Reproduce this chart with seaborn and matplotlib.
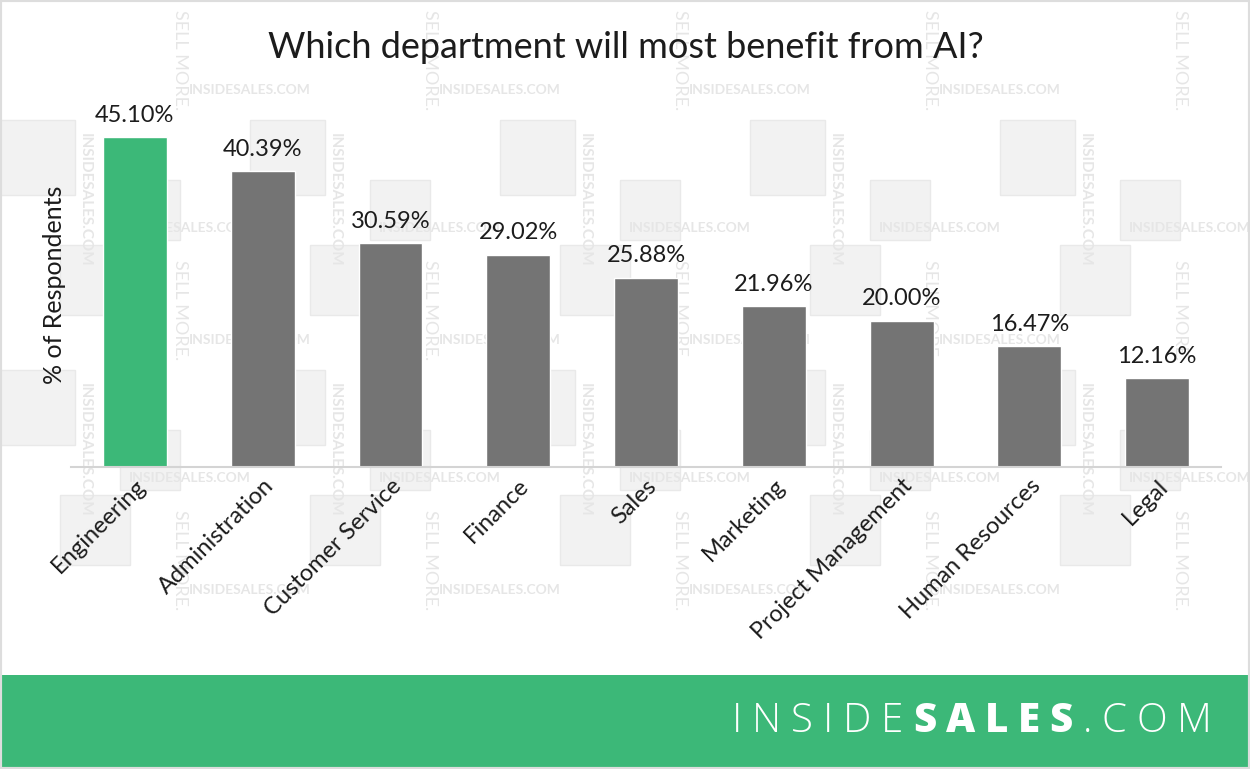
"""
Which department will most benefit from AI? -- InsideSales survey bar chart
"""

import numpy as np
import pandas as pd
import matplotlib
matplotlib.use("Agg")
import matplotlib.pyplot as plt
from matplotlib.patches import Rectangle
from matplotlib.offsetbox import TextArea, HPacker, AnchoredOffsetbox
import seaborn as sns

# ------------------------------------------------------------------
# Data
# ------------------------------------------------------------------
departments = ["Engineering", "Administration", "Customer Service", "Finance",
               "Sales", "Marketing", "Project Management", "Human Resources", "Legal"]
pct_respondents = [45.10, 40.39, 30.59, 29.02, 25.88, 21.96, 20.00, 16.47, 12.16]

GREEN = "#3CB878"
GRAY = "#747474"
INK = "#1c1c1c"
bar_colors = [GREEN] + [GRAY] * (len(departments) - 1)

TITLE = "Which department will most benefit from AI?"
YLABEL = "% of Respondents"

W, H = 1250, 769

sns.set_theme(style="white")
plt.rcParams["font.family"] = ["Lato", "DejaVu Sans"]

fig = plt.figure(figsize=(W / 100, H / 100), dpi=100, facecolor="white")


# ------------------------------------------------------------------
# Faint watermark pattern in the background
# ------------------------------------------------------------------
def px(x, y):
    """pixel (from top-left) -> figure fraction"""
    return x / W, 1 - y / H


WM_TXT = "#e6e6e6"
WM_BOX = "#f2f2f2"
for i in range(0, 5):
    for j in range(0, 3):
        ox, oy = i * 250, j * 250
        # boxed logo tiles
        for bx, by, bs in [(0, 120, 75), (120, 180, 60), (60, -5, 70)]:
            if oy + by < 0 or oy + by + bs > 670 or ox + bx + bs > W - 5:
                continue
            x0, y0 = px(ox + bx, oy + by + bs)
            fig.patches.append(Rectangle((x0, y0), bs / W, bs / H,
                                         transform=fig.transFigure,
                                         facecolor=WM_BOX, edgecolor="#e9e9e9",
                                         lw=1, zorder=-5))
        # horizontal brand text
        for tx, ty in [(250, 90), (190, 228)]:
            if ox + tx + 60 > W or oy + ty > 660:
                continue
            x, y = px(ox + tx, oy + ty)
            fig.text(x, y, "INSIDESALES.COM", color=WM_TXT, fontsize=10,
                     fontweight="bold", ha="center", va="center", zorder=-4)
        # vertical texts
        if oy + 110 < 670:
            x, y = px(ox + 180, oy + 60)
            fig.text(x, y, "SELL MORE.", color=WM_TXT, fontsize=13,
                     rotation=-90, ha="center", va="center", zorder=-4)
        if oy + 260 < 670:
            x, y = px(ox + 85, oy + 200)
            fig.text(x, y, "INSIDESALES.COM", color=WM_TXT, fontsize=11,
                     fontweight="bold", rotation=-90, ha="center", va="center",
                     zorder=-4)

# ------------------------------------------------------------------
# Bar chart
# ------------------------------------------------------------------
ax = fig.add_axes([71 / W, 1 - 467 / H, 1150 / W, (467 - 101) / H])
ax.patch.set_alpha(0)

df = pd.DataFrame({"department": departments, "pct": pct_respondents})
sns.barplot(data=df, x="department", y="pct", hue="department",
            palette=bar_colors, width=0.5, saturation=1, legend=False, ax=ax)

for cont in ax.containers:
    ax.bar_label(cont, fmt="%.2f%%", padding=8, fontsize=17, color=INK)

ax.set_xlim(-0.5, len(departments) - 0.5)
ax.set_ylim(0, 50)
ax.set_yticks([])
ax.set_xlabel("")
ax.set_ylabel("")
for s in ["top", "right", "left"]:
    ax.spines[s].set_visible(False)
ax.spines["bottom"].set_color("#d4d4d4")
ax.spines["bottom"].set_linewidth(1.5)

ax.tick_params(axis="x", length=0, pad=6)
ax.set_xticks(range(len(departments)))
ax.set_xticklabels(departments, rotation=45, ha="right", va="top",
                   rotation_mode="anchor", fontsize=17, color=INK)

fig.text(55 / W, 1 - 285 / H, YLABEL, rotation=90, fontsize=18,
         color=INK, ha="center", va="center")
fig.text(626 / W, 1 - 47 / H, TITLE, fontsize=26, color=INK,
         ha="center", va="center")

# ------------------------------------------------------------------
# Green footer band with logo
# ------------------------------------------------------------------
fig.patches.append(Rectangle((0, 0), 1, (H - 675) / H, transform=fig.transFigure,
                             facecolor=GREEN, edgecolor="none", zorder=5))
fig.patches.append(Rectangle((0, 0), 1, 1, transform=fig.transFigure,
                             facecolor="none", edgecolor="#dddddd", lw=3, zorder=6))

logo_font = ["Open Sans", "DejaVu Sans"]
logo_parts = [("INSIDE", "light"), ("SALES", "heavy"), (".COM", "light")]
logo_chars = []
for word, weight in logo_parts:
    for ch in word:
        logo_chars.append(TextArea(ch, textprops=dict(color="white", fontsize=29,
                                                      family=logo_font,
                                                      fontweight=weight)))
logo = HPacker(children=logo_chars, sep=7, align="baseline")
anchored = AnchoredOffsetbox(loc="center", child=logo, frameon=False,
                             bbox_to_anchor=(972 / W, 1 - 722 / H),
                             bbox_transform=fig.transFigure, pad=0, borderpad=0)
anchored.set_zorder(7)
fig.add_artist(anchored)

fig.savefig("out.png", dpi=100, facecolor="white")
